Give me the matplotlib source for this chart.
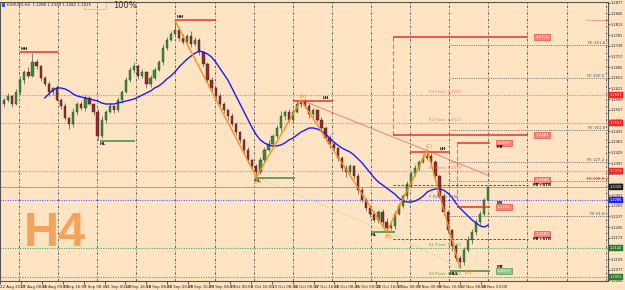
import numpy as np
import matplotlib.pyplot as plt
from matplotlib.transforms import blended_transform_factory
from matplotlib.patches import Rectangle

plt.rcParams['figure.dpi'] = 100
plt.rcParams['font.family'] = ['DejaVu Sans']

symbol = "EURUSD,H4"

# H4 candles (open = previous close)
first_open = 1.2574
close = [1.2586, 1.2598, 1.2574, 1.2610, 1.2646, 1.2670, 1.2658, 1.2700, 1.2688, 1.2652,
         1.2634, 1.2610, 1.2622, 1.2586, 1.2568, 1.2532, 1.2514, 1.2550, 1.2574, 1.2562,
         1.2592, 1.2574, 1.2550, 1.2478, 1.2526, 1.2550, 1.2568, 1.2556, 1.2586, 1.2610,
         1.2646, 1.2676, 1.2688, 1.2658, 1.2670, 1.2634, 1.2652, 1.2676, 1.2700, 1.2742,
         1.2766, 1.2784, 1.2796, 1.2772, 1.2760, 1.2778, 1.2754, 1.2766, 1.2730, 1.2694,
         1.2646, 1.2622, 1.2598, 1.2574, 1.2556, 1.2538, 1.2514, 1.2490, 1.2466, 1.2436,
         1.2406, 1.2388, 1.2370, 1.2406, 1.2436, 1.2454, 1.2478, 1.2502, 1.2538, 1.2550,
         1.2526, 1.2550, 1.2574, 1.2580, 1.2568, 1.2544, 1.2556, 1.2526, 1.2502, 1.2472,
         1.2454, 1.2442, 1.2412, 1.2382, 1.2370, 1.2388, 1.2358, 1.2316, 1.2286, 1.2262,
         1.2244, 1.2226, 1.2250, 1.2220, 1.2202, 1.2208, 1.2244, 1.2268, 1.2298, 1.2334,
         1.2364, 1.2382, 1.2400, 1.2412, 1.2418, 1.2400, 1.2358, 1.2298, 1.2250, 1.2196,
         1.2148, 1.2112, 1.2100, 1.2136, 1.2166, 1.2190, 1.2220, 1.2244, 1.2286, 1.2325]
# wick sizes in pips
wick_up = [6, 10, 4, 8, 12, 6, 14, 28, 8, 4, 6, 10, 4, 8, 6, 10, 4, 12, 6, 8,
           10, 6, 4, 8, 12, 6, 10, 4, 8, 6, 10, 8, 12, 6, 10, 4, 8, 10, 6, 12,
           8, 10, 28, 8, 12, 6, 14, 8, 6, 4, 6, 8, 4, 10, 6, 4, 8, 6, 4, 6,
           8, 4, 6, 10, 8, 12, 6, 10, 14, 6, 8, 10, 12, 6, 10, 8, 6, 4, 8, 6,
           10, 8, 4, 6, 8, 6, 4, 8, 10, 6, 8, 10, 6, 8, 12, 14, 8, 10, 6, 8,
           10, 8, 6, 12, 18, 10, 6, 4, 8, 6, 4, 6, 8, 10, 12, 8, 10, 8, 6, 4]
wick_dn = [8, 6, 10, 4, 8, 12, 6, 4, 10, 8, 6, 12, 8, 4, 10, 6, 14, 8, 10, 6,
           8, 4, 10, 12, 6, 8, 4, 10, 6, 8, 4, 6, 10, 8, 6, 12, 8, 6, 4, 8,
           6, 4, 8, 10, 6, 12, 8, 6, 10, 8, 6, 8, 10, 6, 8, 12, 6, 10, 8, 12,
           8, 10, 15, 6, 8, 4, 10, 6, 8, 12, 6, 8, 4, 10, 6, 12, 8, 6, 10, 8,
           12, 6, 10, 8, 14, 6, 8, 12, 6, 10, 8, 6, 10, 8, 12, 6, 8, 4, 6, 10,
           8, 6, 10, 4, 6, 8, 12, 6, 10, 8, 14, 10, 18, 8, 6, 12, 8, 10, 6, 4]

# moving average, starts at candle 10
ma_start = 10
ma = [1.2592, 1.2604, 1.2616, 1.2622, 1.2622, 1.2619, 1.2613, 1.2604, 1.2598, 1.2595,
      1.2592, 1.2589, 1.2586, 1.2583, 1.2577, 1.2574, 1.2574, 1.2574, 1.2577, 1.2580,
      1.2583, 1.2586, 1.2589, 1.2595, 1.2601, 1.2607, 1.2613, 1.2622, 1.2628, 1.2637,
      1.2649, 1.2658, 1.2670, 1.2685, 1.2697, 1.2709, 1.2718, 1.2727, 1.2733, 1.2730,
      1.2724, 1.2715, 1.2700, 1.2682, 1.2664, 1.2646, 1.2622, 1.2598, 1.2574, 1.2550,
      1.2526, 1.2502, 1.2481, 1.2466, 1.2457, 1.2451, 1.2448, 1.2448, 1.2451, 1.2457,
      1.2466, 1.2472, 1.2481, 1.2490, 1.2496, 1.2502, 1.2502, 1.2499, 1.2493, 1.2484,
      1.2472, 1.2460, 1.2451, 1.2442, 1.2436, 1.2430, 1.2421, 1.2409, 1.2397, 1.2382,
      1.2367, 1.2352, 1.2340, 1.2331, 1.2322, 1.2313, 1.2304, 1.2292, 1.2283, 1.2280,
      1.2280, 1.2283, 1.2289, 1.2298, 1.2310, 1.2316, 1.2319, 1.2319, 1.2316, 1.2307,
      1.2295, 1.2277, 1.2262, 1.2250, 1.2238, 1.2226, 1.2217, 1.2208, 1.2205, 1.2211]

date_labels = ["22 Aug 2020", "27 Aug 08:00", "31 Aug 00:00", "3 Sep 16:00", "7 Sep 08:00",
               "11 Sep 00:00", "14 Sep 16:00", "18 Sep 08:00", "22 Sep 00:00", "25 Sep 16:00",
               "29 Sep 08:00", "3 Oct 00:00", "6 Oct 16:00", "10 Oct 08:00", "14 Oct 00:00",
               "17 Oct 16:00", "21 Oct 08:00", "25 Oct 00:00", "28 Oct 16:00", "1 Nov 08:00",
               "5 Nov 00:00", "8 Nov 16:00", "12 Nov 08:00", "16 Nov 00:00"]

swing_names = ["HH", "HL", "HH", "HL", "LH", "HL", "LH", "HLL"]
swing_prices = [1.2730, 1.2463, 1.2826, 1.2352, 1.2583, 1.2190, 1.2430, 1.2073]

zig_names = ["", "(X)", "(A)", "(B)", "(C)", "(D)"]
zig_bars = [42, 62, 73, 94, 104, 112]
zig_prices = [1.2824, 1.2355, 1.2586, 1.2190, 1.2436, 1.2082]

pivot_names = ["R3", "R2", "R1", "P", "S1", "S2"]
pivot_prices = [1.2601, 1.2517, 1.2373, 1.2286, 1.2142, 1.2055]

fe_names = ["FE 261.8", "FE 200.0", "FE 161.8", "FE 127.2", "FE 100.0", "FE 61.8"]
fe_prices = [1.2751, 1.2652, 1.2496, 1.2400, 1.2343, 1.2238]

target_prices = [1.2775, 1.2481, 1.2457, 1.2265, 1.2346, 1.2184]

bg = '#ffe4c4'
fig = plt.figure(figsize=(6.25, 2.9), facecolor=bg)
ax = fig.add_axes([0.0, 9 / 290, 608 / 625, 279 / 290], facecolor=bg)

# candles
c = np.array(close)
o = np.r_[first_open, c[:-1]]
hi = np.maximum(o, c) + np.array(wick_up) * 1e-4
lo = np.minimum(o, c) - np.array(wick_dn) * 1e-4
idx = np.arange(len(c))
up = c >= o
body = np.maximum(np.abs(c - o), 0.0003)
ax.vlines(idx, lo, hi, color='#6a6a6a', lw=0.6, zorder=3)
ax.bar(idx[up], body[up], bottom=o[up], width=0.55, color='#3d8a3d',
       edgecolor='#1f4f1f', lw=0.3, zorder=4)
ax.bar(idx[~up], body[~up], bottom=c[~up], width=0.55, color='#8e3030',
       edgecolor='#4a1515', lw=0.3, zorder=4)

# moving average
ax.plot(np.arange(ma_start, ma_start + len(ma)), ma, color='#1a1aff', lw=1.0, zorder=5)

# period separators
for k in range(16):
    ax.axvline(3.69 + 9.61 * k, color='#4d4d4d', lw=0.6, ls=(0, (3, 2, 1, 2)), zorder=1)

# pivot lines
pivot_colors = ['#f07a7a', '#f07a7a', '#f07a7a', '#6060ff', '#55a055', '#55a055']
box_colors = ['#ff2020', '#ff2020', '#ff2020', '#2020ff', '#2a7a2a', '#2a7a2a']
ybox = blended_transform_factory(ax.transAxes, ax.transData)
for name, p, col, bc in zip(pivot_names, pivot_prices, pivot_colors, box_colors):
    ax.axhline(p, color=col, lw=0.8, ls=(0, (1, 1.2)), zorder=2)
    ax.text(104.5, p + 0.0002, f"{name} Pivot: {p:.4f}", color=col, fontsize=2.8,
            va='bottom', zorder=6)
    ax.text(1.003, p, f"{p:.4f}", transform=ybox, color='white', fontsize=2.6,
            va='center', ha='left', clip_on=False, zorder=9,
            bbox=dict(boxstyle='square,pad=0.15', fc=bc, ec=bc, lw=0.3))

# current price
last = c[-1]
ax.axhline(last, color='#b0a090', lw=0.7, zorder=2)
ax.text(1.003, last, f"{last:.4f}", transform=ybox, color='white', fontsize=2.6,
        va='center', ha='left', clip_on=False, zorder=9,
        bbox=dict(boxstyle='square,pad=0.15', fc='#202020', ec='#202020', lw=0.3))

# fibonacci expansion levels
for name, p in zip(fe_names, fe_prices):
    ax.hlines(p, 109.6, 148.2, color='#707070', lw=0.7, ls=(0, (1, 1.2)), zorder=2)
    ax.text(147.6, p + 0.0001, name, color='#505050', fontsize=2.8, ha='right',
            va='bottom', zorder=6)

# swing highs / lows
seg = [(4.0, 13.3), (23.6, 32.2), (42.3, 51.8), (61.7, 71.5),
       (71.0, 80.8), (90.2, 96.1), (99.8, 109.6), (109.6, 119.4)]
for name, p, (x0, x1) in zip(swing_names, swing_prices, seg):
    high = name.startswith("HH") or name.startswith("LH")
    col = '#e8322a' if high else '#3f8a3f'
    ax.hlines(p, x0, x1, color=col, lw=1.1, zorder=6)
    if name == "LH":
        tx, ha = x1 - 1.0, 'right'
    else:
        tx, ha = x0, 'left'
    ax.text(tx, p + (0.0003 if high else -0.0003), name, fontsize=3.2,
            fontweight='bold', color='#111111', ha=ha,
            va='bottom' if high else 'top', zorder=7)

# harmonic zigzag
ax.plot(zig_bars, zig_prices, color='#ff8c1a', lw=1.0, zorder=6)
ax.plot([zig_bars[1], zig_bars[3]], [zig_prices[1], zig_prices[3]],
        color='#c8b89a', lw=0.6, ls=':', zorder=5)
ax.plot([zig_bars[3], zig_bars[5]], [zig_prices[3], zig_prices[5]],
        color='#c8b89a', lw=0.6, ls=':', zorder=5)
for i in range(1, len(zig_bars)):
    lowpt = zig_prices[i] < zig_prices[i - 1]
    dx = 1.5 if i == len(zig_bars) - 1 else 0
    ax.text(zig_bars[i] + dx + 0.5, zig_prices[i] + (-0.0006 if lowpt else 0.0004),
            zig_names[i], color='#ff8c1a', fontsize=3.6, ha='center',
            va='top' if lowpt else 'bottom', zorder=7)

# projection line from A
ax.plot([zig_bars[2], 119.4], [zig_prices[2], 1.2358], color='#f07070', lw=0.6, zorder=5)

# targets
box_kw = dict(boxstyle='square,pad=0.3', fc='#f8857a', ec='#e03a2a', lw=0.4)
for p in target_prices[:2]:
    ax.hlines(p, 95.6, 128.7, color='#e8322a', lw=1.1, zorder=6)
    ax.text(130.5, p, f"{p:.4f}", color='white', fontsize=2.8, va='center', bbox=box_kw, zorder=8)
ax.vlines(95.6, target_prices[1], target_prices[0], color='#f06a6a', lw=0.8,
          ls=(0, (4, 2)), zorder=5)
for p, tag, above in [(target_prices[2], "MT", False), (target_prices[3], "BR", True)]:
    ax.hlines(p, 111.3, 119.4, color='#e8322a', lw=1.1, zorder=6)
    ax.text(121.1, p, f"{p:.4f}", color='white', fontsize=2.8, va='center', bbox=box_kw, zorder=8)
    ax.text(121.1, p + (0.0007 if above else -0.0007), tag, fontsize=3, fontweight='bold',
            color='#111111', va='bottom' if above else 'top', zorder=8)
ax.vlines(111.3, target_prices[3], target_prices[2], color='#f06a6a', lw=0.8,
          ls=(0, (4, 2)), zorder=5)
for p in target_prices[4:]:
    ax.hlines(p - 0.0015, 95.6, 128.7, color='#404040', lw=0.6, ls=(0, (3, 2)), zorder=5)
    ax.text(130.5, p, f"{p:.4f}", color='white', fontsize=2.8, va='center', bbox=box_kw, zorder=8)
    ax.text(130.0, p - 0.0010, "MT+STR", fontsize=3, fontweight='bold', color='#111111',
            va='top', zorder=8)
hll = swing_prices[-1]
ax.text(121.1, hll, f"{hll:.4f}", color='white', fontsize=2.8, va='center', zorder=8,
        bbox=dict(boxstyle='square,pad=0.3', fc='#8fc78f', ec='#3f8a3f', lw=0.4))
ax.text(121.1, hll + 0.0006, "MT", fontsize=3, fontweight='bold', color='#111111',
        va='bottom', zorder=8)

# small order markers near the right edge
for p in [1.2826, 1.2352]:
    ax.hlines(p, 143.0, 148.2, color='#f07070', lw=0.6, ls=(0, (2, 1)), zorder=5)
    ax.text(148.2, p, "+", color='#e03a2a', fontsize=3.5, ha='center', va='center', zorder=6)

ax.set_xlim(-0.98, 148.4)
ax.set_ylim(1.2043, 1.2880)

ax.yaxis.tick_right()
yt = np.arange(1.2877, 1.2043, -0.0032)
ax.set_yticks(yt)
ax.set_yticklabels([f"{v:.4f}" for v in yt])
ax.tick_params(axis='y', labelsize=2.6, length=1.5, width=0.5, pad=0.5, colors='#222222')
xt = [-0.98 + 5.135 * k for k in range(len(date_labels))]
ax.set_xticks(xt)
ax.set_xticklabels(date_labels, ha='left')
ax.tick_params(axis='x', labelsize=2.8, length=2, width=0.5, pad=1, colors='#222222')
for s in ax.spines.values():
    s.set_color('#555555')
    s.set_linewidth(0.8)

# header
fig.text(7 / 625, 1 - 5 / 290, f"{symbol}  {o[-1]:.4f} {hi[-1]:.4f} {lo[-1]:.4f} {c[-1]:.4f}",
         fontsize=2.8, color='#222222', va='center')
fig.patches.append(Rectangle((2 / 625, 1 - 7 / 290), 3 / 625, 4 / 290, transform=fig.transFigure,
                             fc='#3060c0', ec='none'))
fig.patches.append(Rectangle((84 / 625, 1 - 9 / 290), 22 / 625, 7 / 290, transform=fig.transFigure,
                             fc='none', ec='#777777', lw=0.5, ls=':'))
fig.text(113 / 625, 1 - 5 / 290, "100%", fontsize=6, color='#333333', va='center')

fig.text(55 / 625, 1 - 233 / 290, "H4", fontsize=35, fontweight='bold',
         family=['Liberation Sans', 'DejaVu Sans'], color='#f5a25d', ha='center', va='center')

fig.savefig('out.png', dpi=100, facecolor=bg)
